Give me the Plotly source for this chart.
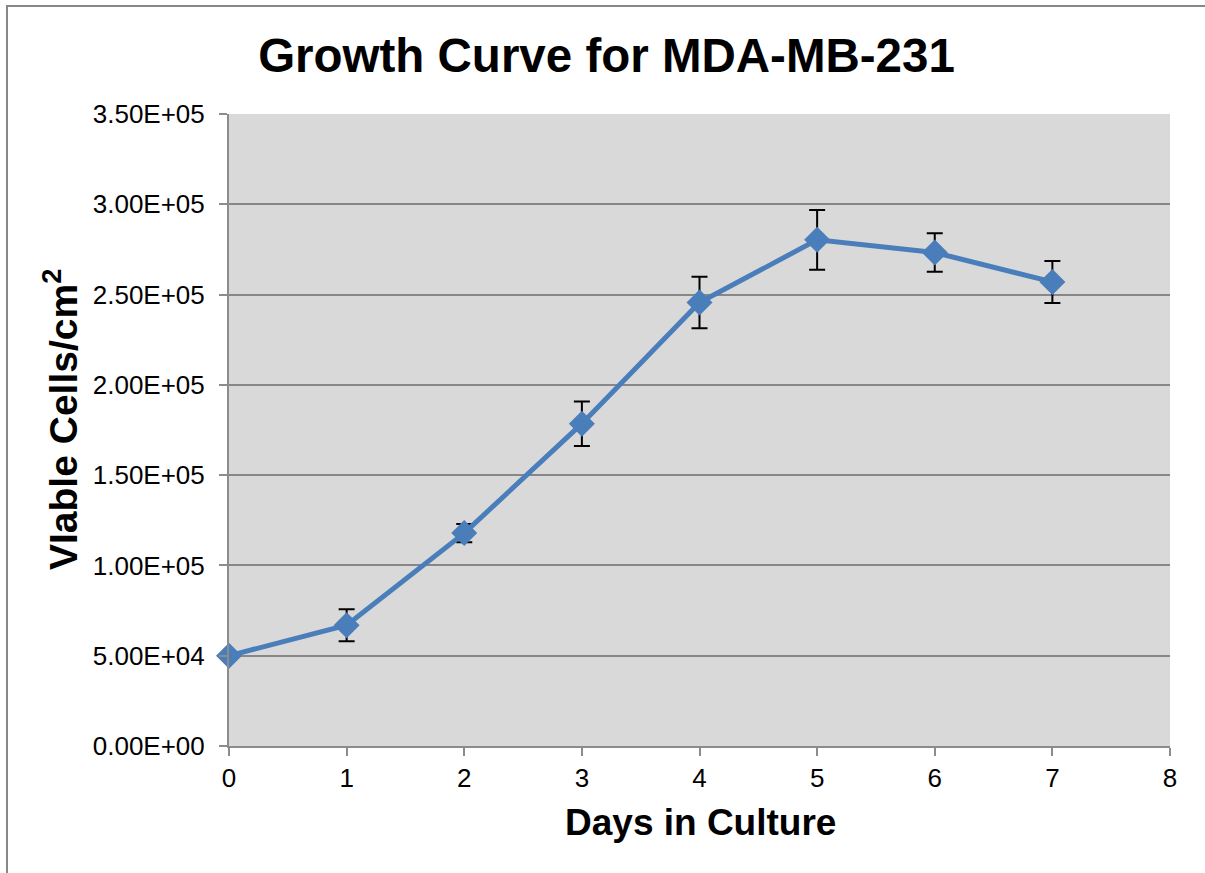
import plotly.graph_objects as go

days = [0, 1, 2, 3, 4, 5, 6, 7]
viable_cells = [50000, 66900, 117900, 178500, 245600, 280300, 273300, 257000]
error_vals = [0, 8870, 5000, 12300, 14300, 16500, 10600, 11600]

y_tick_vals = [0, 50000, 100000, 150000, 200000, 250000, 300000, 350000]
y_tick_text = ["0.00E+00", "5.00E+04", "1.00E+05", "1.50E+05",
               "2.00E+05", "2.50E+05", "3.00E+05", "3.50E+05"]
x_tick_vals = [0, 1, 2, 3, 4, 5, 6, 7, 8]

FONT = "Liberation Sans, Arial, sans-serif"
AXIS_GRAY = "#8C8C8C"

ML, MR, MT, MB = 229, 35, 114, 127
W, H = 1205, 873
PW, PH = W - ML - MR, H - MT - MB

fig = go.Figure()
fig.add_trace(go.Scatter(
    x=days,
    y=viable_cells,
    mode="lines+markers",
    line=dict(color="#4A7EBB", width=5),
    marker=dict(symbol="diamond", size=20, color="#4A7EBB"),
    error_y=dict(type="data", array=error_vals, visible=True,
                 color="black", thickness=2, width=8),
    showlegend=False,
    cliponaxis=False,
))

fig.update_layout(
    width=W,
    height=H,
    margin=dict(l=ML, r=MR, t=MT, b=MB),
    paper_bgcolor="white",
    plot_bgcolor="#D9D9D9",
    font=dict(family=FONT, color="black"),
    title=dict(text="<b>Growth Curve for MDA-MB-231</b>",
               x=606.5 / W, xanchor="center", y=1 - 55 / H, yanchor="middle",
               font=dict(family=FONT, size=47.5, color="black")),
    showlegend=False,
)

fig.update_xaxes(
    range=[0, 8],
    tickvals=x_tick_vals,
    ticks="outside",
    ticklen=8,
    tickwidth=2,
    tickcolor=AXIS_GRAY,
    showline=True,
    linecolor=AXIS_GRAY,
    linewidth=2,
    showgrid=False,
    zeroline=False,
    tickfont=dict(family=FONT, size=26, color="black"),
    ticklabelstandoff=0,
)

fig.update_yaxes(
    range=[0, 350000],
    tickvals=y_tick_vals,
    ticktext=y_tick_text,
    ticks="outside",
    ticklen=8,
    tickwidth=2,
    tickcolor=AXIS_GRAY,
    showline=True,
    linecolor=AXIS_GRAY,
    linewidth=2,
    showgrid=True,
    gridcolor="#878787",
    gridwidth=2,
    zeroline=False,
    tickfont=dict(family=FONT, size=26, color="black"),
    ticklabelstandoff=9,
)

fig.add_annotation(
    text="<b>Days in Culture</b>", xref="paper", yref="paper",
    x=(700 - 229) / PW, y=(746 - 822) / PH, xanchor="center", yanchor="middle",
    showarrow=False, font=dict(family=FONT, size=37, color="black"),
)
fig.add_annotation(
    text="<b>VIable Cells/cm<sup>2</sup></b>", xref="paper", yref="paper",
    x=(60 - 229) / PW, y=(746 - 420) / PH, xanchor="center", yanchor="middle",
    textangle=-90,
    showarrow=False, font=dict(family=FONT, size=39, color="black"),
)

# outer chart-area border
fig.add_shape(type="rect", xref="paper", yref="paper",
              x0=(7 - 229) / PW, x1=1.2, y0=-0.3, y1=(746 - 6) / PH,
              line=dict(color="#888888", width=2), fillcolor="rgba(0,0,0,0)",
              layer="below")

fig.write_html("out.html",
               config={"displayModeBar": False},
               post_script="document.body.style.margin='0';")
